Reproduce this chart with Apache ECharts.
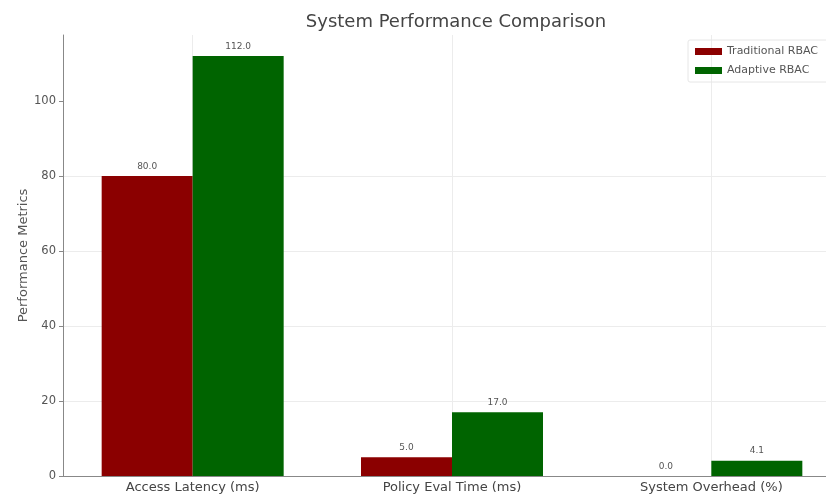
<!DOCTYPE html>
<html>
<head>
<meta charset="utf-8">
<script src="https://cdn.jsdelivr.net/npm/echarts@6/dist/echarts.min.js"></script>
<style>
  html, body { margin: 0; padding: 0; background: #fff; overflow: hidden; }
  /* plot runs past the right edge in the reference, so the canvas is a bit wider than the window */
  #chart { width: 842px; height: 495px; }
</style>
</head>
<body>
<div id="chart"></div>
<script>
const categories = ['Access Latency (ms)', 'Policy Eval Time (ms)', 'System Overhead (%)'];
const traditional = [80.0, 5.0, 0.0];
const adaptive = [112.0, 17.0, 4.1];
const yTicks = [0, 20, 40, 60, 80, 100];

const chart = echarts.init(document.getElementById('chart'));
const labelStyle = {
  show: true,
  position: 'top',
  distance: 5,
  color: '#555',
  fontSize: 9,
  fontFamily: 'DejaVu Sans',
  formatter: p => p.value.toFixed(1)
};

const option = {
  animation: false,
  title: {
    text: 'System Performance Comparison',
    left: 451,
    textAlign: 'center',
    top: 8,
    textStyle: { fontSize: 18, fontWeight: 'normal', color: '#444', fontFamily: 'DejaVu Sans' }
  },
  legend: {
    left: 688,
    top: 40,
    orient: 'vertical',
    icon: 'rect',
    itemWidth: 27,
    itemHeight: 7,
    itemGap: 8,
    padding: [6, 30, 6, 7],
    borderColor: '#e6e6e6',
    borderWidth: 1,
    borderRadius: 2,
    textStyle: { fontSize: 11, color: '#555', fontFamily: 'DejaVu Sans' },
    data: ['Traditional RBAC', 'Adaptive RBAC']
  },
  grid: { left: 63, right: 1, top: 35, bottom: 19, containLabel: false },
  xAxis: {
    type: 'category',
    data: categories,
    axisLine: { lineStyle: { color: '#888', width: 1 } },
    axisTick: { alignWithLabel: true, length: 4, lineStyle: { color: '#888' } },
    axisLabel: { color: '#444', fontSize: 13, margin: 5, fontFamily: 'DejaVu Sans' },
    splitLine: { show: true, alignWithLabel: true, lineStyle: { color: '#ececec', width: 1 } }
  },
  yAxis: {
    type: 'value',
    min: 0,
    max: 117.6,
    interval: 20,
    name: 'Performance Metrics',
    nameLocation: 'middle',
    nameGap: 33,
    nameMoveOverlap: false,
    nameTextStyle: { color: '#555', fontSize: 13, fontFamily: 'DejaVu Sans' },
    axisLine: { show: true, lineStyle: { color: '#888', width: 1 } },
    axisTick: { show: true, length: 4, customValues: yTicks, lineStyle: { color: '#888' } },
    axisLabel: {
      color: '#555', fontSize: 11.5, margin: 7, fontFamily: 'DejaVu Sans',
      customValues: yTicks
    },
    splitLine: { show: true, showMaxLine: false, lineStyle: { color: '#ececec', width: 1 } }
  },
  series: [
    {
      name: 'Traditional RBAC',
      type: 'bar',
      data: traditional,
      barWidth: 91,
      barGap: '0%',
      itemStyle: { color: '#8b0000' },
      label: labelStyle
    },
    {
      name: 'Adaptive RBAC',
      type: 'bar',
      data: adaptive,
      barWidth: 91,
      barGap: '0%',
      itemStyle: { color: '#006400' },
      label: labelStyle
    }
  ]
};
chart.setOption(option);
</script>
</body>
</html>
